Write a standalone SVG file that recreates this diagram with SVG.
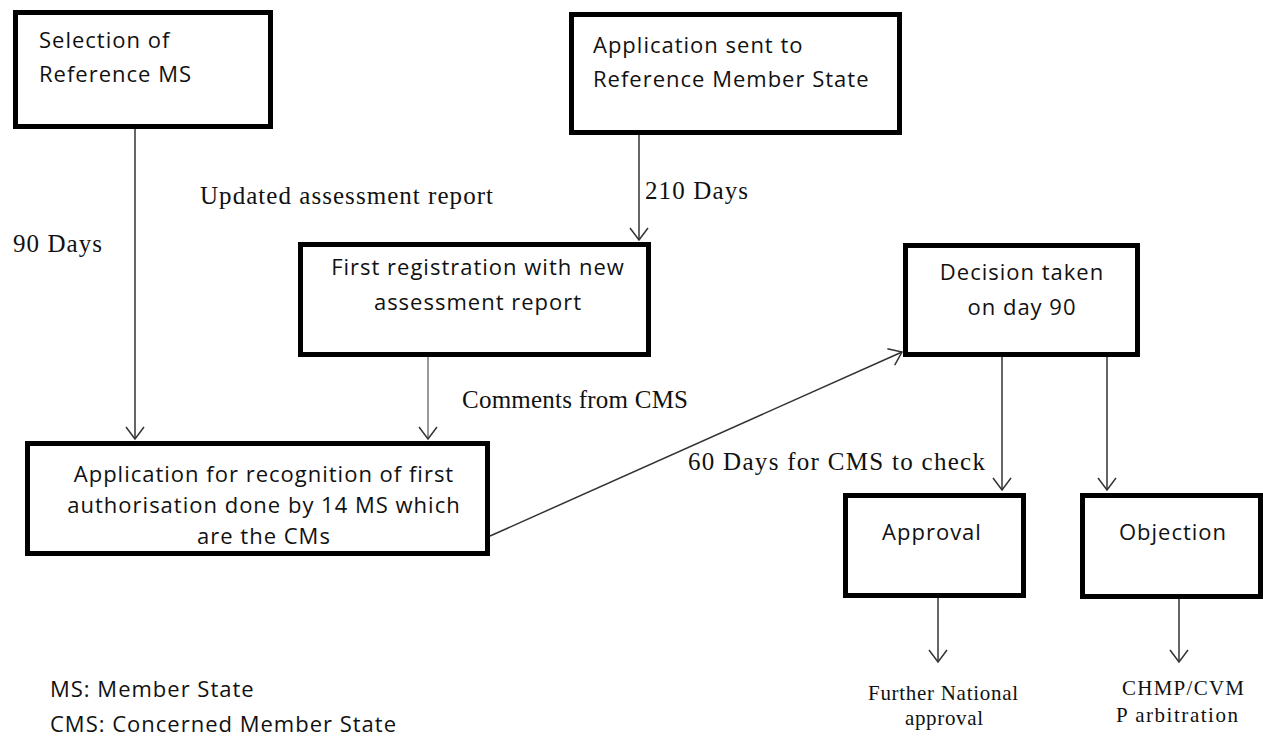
<svg xmlns="http://www.w3.org/2000/svg" width="1263" height="751" viewBox="0 0 1263 751">
<style>
.box{fill:#fff;stroke:#000;stroke-width:5}
.t{font-family:"Open Sans","Noto Sans",sans-serif;font-size:22px;letter-spacing:1px;fill:#111}
.c{text-anchor:middle}
.s{font-family:"Liberation Serif","Times New Roman",serif;font-size:25px;fill:#111}
.s2{font-family:"Liberation Serif","Times New Roman",serif;font-size:21px;fill:#111}
.ln{fill:none;stroke:#333;stroke-width:1.5}
</style>
<defs>
<marker id="ah" markerUnits="userSpaceOnUse" markerWidth="16" markerHeight="22" refX="13" refY="10" orient="auto">
<path d="M1,1 L13,10 L1,19" fill="none" stroke="#333" stroke-width="1.5"/>
</marker>
</defs>
<g id="connectors">
<line class="ln" x1="135" y1="129" x2="135" y2="439" marker-end="url(#ah)"/>
<line class="ln" x1="639" y1="135" x2="639" y2="240" marker-end="url(#ah)"/>
<line class="ln" x1="428" y1="357" x2="428" y2="439" style="stroke:#777" marker-end="url(#ah)"/>
<line class="ln" x1="490" y1="536" x2="902" y2="352" marker-end="url(#ah)"/>
<line class="ln" x1="1002" y1="357" x2="1002" y2="490" marker-end="url(#ah)"/>
<line class="ln" x1="1107" y1="357" x2="1107" y2="490" marker-end="url(#ah)"/>
<line class="ln" x1="938" y1="598" x2="938" y2="662" marker-end="url(#ah)"/>
<line class="ln" x1="1179" y1="599" x2="1179" y2="662" marker-end="url(#ah)"/>
</g>
<g id="labels">
<text class="s" x="13" y="252" textLength="89" lengthAdjust="spacing">90 Days</text>
<text class="s" x="200" y="204" textLength="293" lengthAdjust="spacing">Updated assessment report</text>
<text class="s" x="645" y="199" textLength="103" lengthAdjust="spacing">210 Days</text>
<text class="s" x="462" y="408" textLength="226" lengthAdjust="spacing">Comments from CMS</text>
<text class="s" x="688" y="470" textLength="297" lengthAdjust="spacing">60 Days for CMS to check</text>
<text class="s2" x="868" y="700" textLength="150" lengthAdjust="spacing">Further National</text>
<text class="s2" x="905" y="725" textLength="78" lengthAdjust="spacing">approval</text>
<text class="s2" x="1122" y="695" textLength="122" lengthAdjust="spacing">CHMP/CVM</text>
<text class="s2" x="1116" y="722" textLength="122" lengthAdjust="spacing">P arbitration</text>
<text class="t" x="50" y="697">MS: Member State</text>
<text class="t" x="50" y="732">CMS: Concerned Member State</text>
</g>
<g id="n1">
<rect class="box" x="15.5" y="12.5" width="255" height="114"/>
<text class="t" x="39" y="48">Selection of</text>
<text class="t" x="39" y="82">Reference MS</text>
</g>
<g id="n2">
<rect class="box" x="571.5" y="14.5" width="328" height="118"/>
<text class="t" x="593" y="53">Application sent to</text>
<text class="t" x="593" y="87">Reference Member State</text>
</g>
<g id="n3">
<rect class="box" x="300.5" y="244.5" width="348" height="110"/>
<text class="t c" x="478" y="275">First registration with new</text>
<text class="t c" x="478" y="310">assessment report</text>
</g>
<g id="n4">
<rect class="box" x="27.5" y="443.5" width="460" height="110"/>
<text class="t c" x="264" y="482">Application for recognition of first</text>
<text class="t c" x="264" y="513">authorisation done by 14 MS which</text>
<text class="t c" x="264" y="544">are the CMs</text>
</g>
<g id="n5">
<rect class="box" x="905.5" y="245.5" width="232" height="109"/>
<text class="t c" x="1022" y="280">Decision taken</text>
<text class="t c" x="1022" y="315">on day 90</text>
</g>
<g id="n6">
<rect class="box" x="845.5" y="495.5" width="178" height="100"/>
<text class="t c" x="932" y="540">Approval</text>
</g>
<g id="n7">
<rect class="box" x="1082.5" y="495.5" width="178" height="101"/>
<text class="t c" x="1173" y="540">Objection</text>
</g>
</svg>
